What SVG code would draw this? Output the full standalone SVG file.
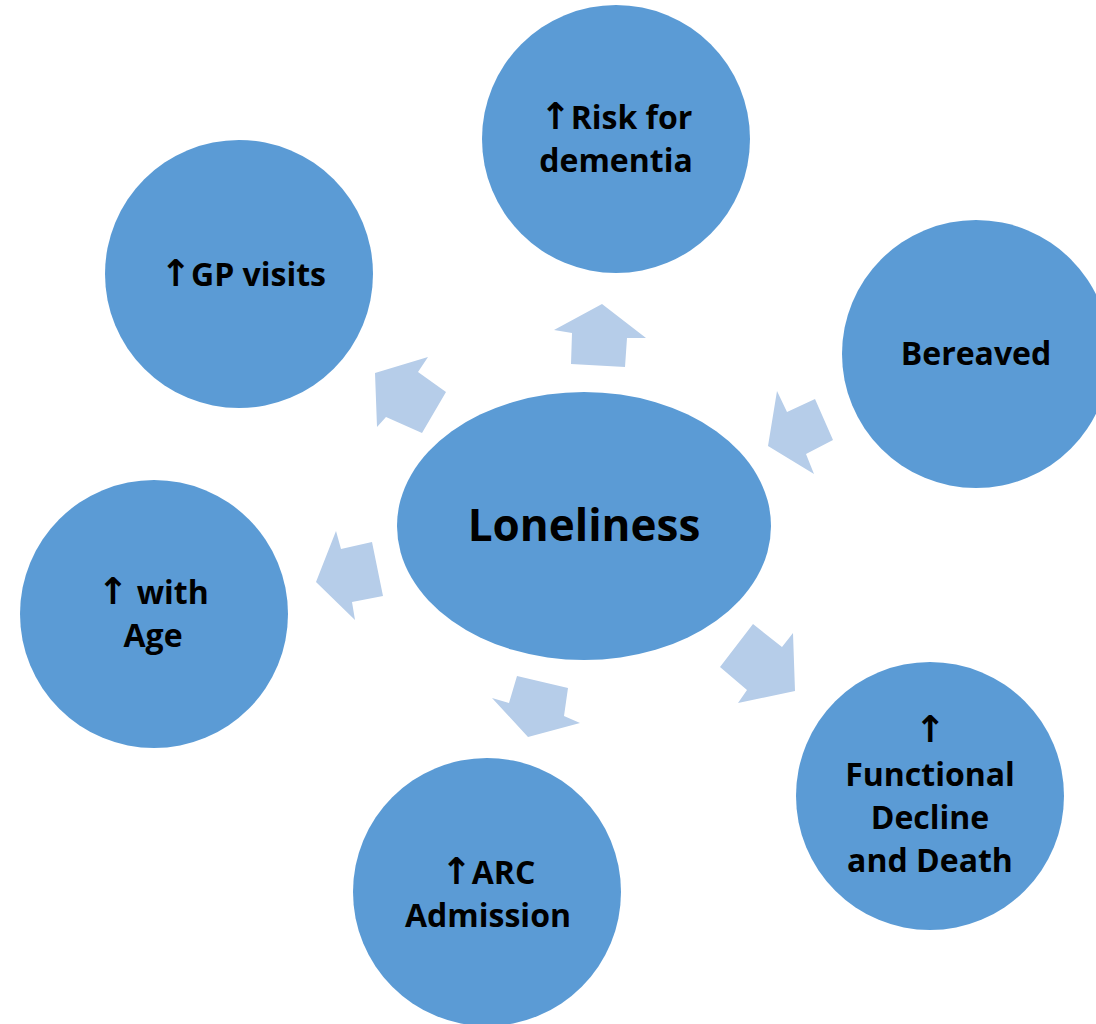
<svg xmlns="http://www.w3.org/2000/svg" width="1096" height="1024" viewBox="0 0 1096 1024">
<style>
.c{fill:#5B9BD5;}
.a{fill:#B6CDE9;}
.t{font-family:"Open Sans","Liberation Sans",sans-serif;font-weight:bold;font-size:32px;fill:#000;text-anchor:middle;}
.big{font-size:44px;}
.u{font-family:"DejaVu Sans",sans-serif;font-weight:bold;font-size:37px;}
</style>
<rect width="1096" height="1024" fill="#fff"/>
<g id="connectors">
<polygon class="a" points="602,304 646,338 627,338 625,367 571,364 572,333 554,330"/>
<polygon class="a" points="375,373 428,357 418,372 446,392 422,433 386,417 377,427"/>
<polygon class="a" points="768,446 777,391 787,412 815,399 833,440 806,454 814,474"/>
<polygon class="a" points="316,582 336,531 341,549 372,542 383,596 352,602 355,620"/>
<polygon class="a" points="528,737 492,698 509,703 517,676 568,688 564,716 580,723"/>
<polygon class="a" points="795,691 793,633 782,647 753,624 720,667 747,690 738,703"/>
</g>
<g id="node-loneliness"><ellipse class="c" cx="584" cy="526" rx="187" ry="134"/><text class="t big" x="584" y="541">Loneliness</text></g>
<g id="node-dementia"><circle class="c" cx="616" cy="139" r="134"/><text class="t" x="616" y="129"><tspan class="u">↑</tspan>Risk for</text><text class="t" x="616" y="172">dementia</text></g>
<g id="node-gp"><circle class="c" cx="239" cy="274" r="134"/><text class="t" x="243" y="286"><tspan class="u">↑</tspan>GP visits</text></g>
<g id="node-bereaved"><circle class="c" cx="976" cy="354" r="134"/><text class="t" x="976" y="365">Bereaved</text></g>
<g id="node-age"><circle class="c" cx="154" cy="614" r="134"/><text class="t" x="153" y="604"><tspan class="u">↑</tspan> with</text><text class="t" x="153" y="647">Age</text></g>
<g id="node-arc"><circle class="c" cx="487" cy="892" r="134"/><text class="t" x="488" y="884"><tspan class="u">↑</tspan>ARC</text><text class="t" x="488" y="927">Admission</text></g>
<g id="node-functional"><circle class="c" cx="930" cy="796" r="134"/><text class="t" x="930" y="742"><tspan class="u">↑</tspan></text><text class="t" x="930" y="786">Functional</text><text class="t" x="930" y="829">Decline</text><text class="t" x="930" y="872">and Death</text></g>
</svg>
